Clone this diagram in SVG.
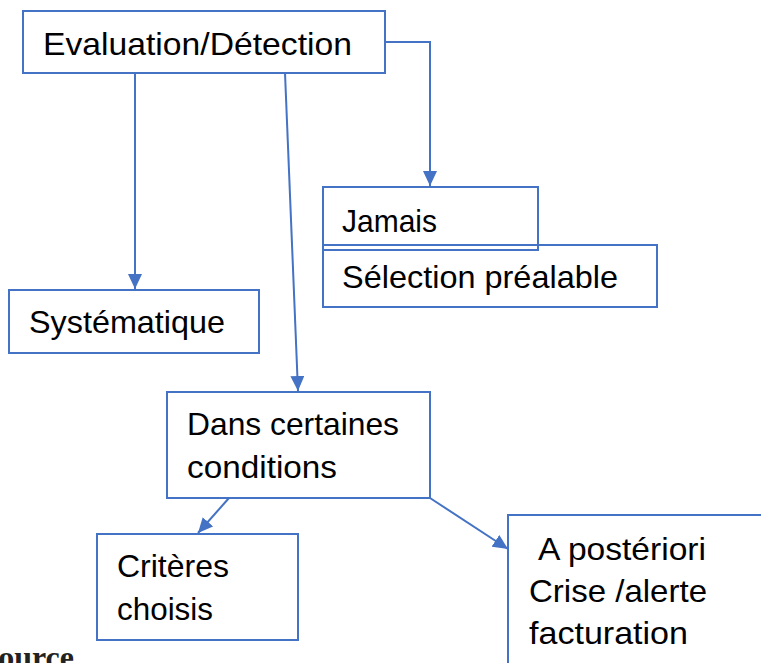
<svg xmlns="http://www.w3.org/2000/svg" width="761" height="663" viewBox="0 0 761 663">
  <defs>
    <style>
      .box { fill: none; stroke: #4472C4; stroke-width: 2; }
      .lbl { font-family: "Liberation Sans", Arial, sans-serif; font-size: 32px; fill: #000; }
      .con { fill: none; stroke: #4472C4; stroke-width: 2; }
      .src { font-family: "Liberation Serif", "Times New Roman", serif; font-size: 32px; font-weight: bold; fill: #222; }
    </style>
    <marker id="arr" markerUnits="userSpaceOnUse" markerWidth="16" markerHeight="14" refX="15" refY="7" orient="auto">
      <path d="M0,0 L15,7 L0,14 Z" fill="#4472C4"/>
    </marker>
  </defs>
  <rect width="761" height="663" fill="#ffffff"/>

  <g id="connectors">
    <polyline class="con" points="385,42 430,42 430,186" marker-end="url(#arr)"/>
    <line class="con" x1="135" y1="73" x2="135" y2="289" marker-end="url(#arr)"/>
    <line class="con" x1="285" y1="73" x2="298" y2="391" marker-end="url(#arr)"/>
    <line class="con" x1="229" y1="498" x2="198" y2="533" marker-end="url(#arr)"/>
    <line class="con" x1="430" y1="498" x2="508" y2="549" marker-end="url(#arr)"/>
  </g>

  <g id="evaluation">
    <rect class="box" x="23" y="11" width="362" height="62" fill="#fff"/>
    <text class="lbl" x="43" y="55" textLength="309" lengthAdjust="spacingAndGlyphs">Evaluation/Détection</text>
  </g>

  <g id="selection">
    <rect class="box" x="323" y="245" width="334" height="62"/>
    <text class="lbl" x="342" y="288" textLength="276" lengthAdjust="spacingAndGlyphs">Sélection préalable</text>
  </g>

  <g id="jamais">
    <rect class="box" x="323" y="187" width="215" height="63"/>
    <text class="lbl" x="342" y="232" textLength="95" lengthAdjust="spacingAndGlyphs">Jamais</text>
  </g>

  <g id="systematique">
    <rect class="box" x="9" y="290" width="250" height="63"/>
    <text class="lbl" x="29" y="333" textLength="196" lengthAdjust="spacingAndGlyphs">Systématique</text>
  </g>

  <g id="conditions">
    <rect class="box" x="167" y="392" width="263" height="106"/>
    <text class="lbl" x="187" y="435" textLength="212" lengthAdjust="spacingAndGlyphs">Dans certaines</text>
    <text class="lbl" x="187" y="478" textLength="150" lengthAdjust="spacingAndGlyphs">conditions</text>
  </g>

  <g id="criteres">
    <rect class="box" x="97" y="534" width="201" height="106"/>
    <text class="lbl" x="117" y="577" textLength="112" lengthAdjust="spacingAndGlyphs">Critères</text>
    <text class="lbl" x="117" y="620" textLength="96" lengthAdjust="spacingAndGlyphs">choisis</text>
  </g>

  <g id="posteriori">
    <polyline class="box" points="508,675 508,515 775,515"/>
    <text class="lbl" x="538" y="560" textLength="168" lengthAdjust="spacingAndGlyphs">A postériori</text>
    <text class="lbl" x="529" y="602" textLength="178" lengthAdjust="spacingAndGlyphs">Crise /alerte</text>
    <text class="lbl" x="529" y="644" textLength="159" lengthAdjust="spacingAndGlyphs">facturation</text>
  </g>

  <text class="src" x="74" y="668" text-anchor="end">Source</text>
</svg>
